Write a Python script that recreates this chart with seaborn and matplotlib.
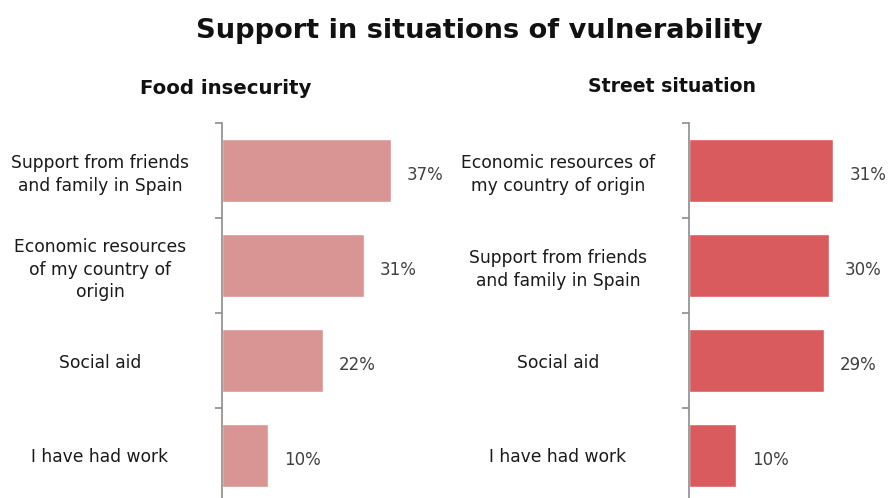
import matplotlib
matplotlib.use("Agg")
import matplotlib.pyplot as plt
import seaborn as sns
import pandas as pd
import numpy as np

sns.set_theme(style="white")
plt.rcParams['font.family'] = ['DejaVu Sans']

title = "Support in situations of vulnerability"
left_title = "Food insecurity"
right_title = "Street situation"
left_cats = ["Support from friends\nand family in Spain",
             "Economic resources\nof my country of\norigin",
             "Social aid",
             "I have had work"]
left_vals = [37, 31, 22, 10]
right_cats = ["Economic resources of\nmy country of origin",
              "Support from friends\nand family in Spain",
              "Social aid",
              "I have had work"]
right_vals = [31, 30, 29, 10]
left_color = "#D99594"
right_color = "#D95B5D"

W, H = 893, 498
fig = plt.figure(figsize=(W / 100, H / 100), dpi=100)


def px_axes(x0, y_top, w, h):
    return fig.add_axes([x0 / W, 1 - (y_top + h) / H, w / W, h / H])


def panel(ax, cats, vals, color, pad_px):
    df = pd.DataFrame({"cat": cats, "val": vals})
    sns.barplot(data=df, y="cat", x="val", color=color, width=0.66,
                saturation=1, ax=ax, orient="h")
    ax.set_xlim(0, 40)
    ax.set_ylim(len(cats) - 0.5, -0.5)
    for s in ["top", "right", "bottom"]:
        ax.spines[s].set_visible(False)
    ax.spines["left"].set_color("#8c8c8c")
    ax.spines["left"].set_linewidth(1.2)
    ax.set_xticks([])
    ax.set_xlabel("")
    ax.set_ylabel("")
    ax.set_yticks(np.arange(len(cats)))
    ax.set_yticklabels(cats, ha="center", fontsize=12.3, color="#1a1a1a",
                       linespacing=1.3)
    ax.tick_params(axis="y", which="major", length=0, pad=pad_px * 0.72)
    ax.set_yticks(np.arange(len(cats) + 1) - 0.5, minor=True)
    ax.tick_params(axis="y", which="minor", length=5, width=1.2,
                   color="#8c8c8c", left=True)
    for i, v in enumerate(vals):
        ax.text(v + 3.5, i + 0.05, f"{v}%", va="center", ha="left",
                fontsize=12, color="#404040")


axL = px_axes(222, 123, 40 * 4.57, 380)
panel(axL, left_cats, left_vals, left_color, 122)
axR = px_axes(689, 123, 40 * 4.65, 380)
panel(axR, right_cats, right_vals, right_color, 131)

fig.text(479 / W, 1 - 31 / H, title, ha="center", va="center",
         fontsize=19.6, fontweight="bold", color="#111111")
fig.text(226 / W, 1 - 88 / H, left_title, ha="center", va="center",
         fontsize=14.2, fontweight="bold", color="#111111")
fig.text(672 / W, 1 - 87 / H, right_title, ha="center", va="center",
         fontsize=13.6, fontweight="bold", color="#111111")

fig.savefig("out.png", dpi=100)
